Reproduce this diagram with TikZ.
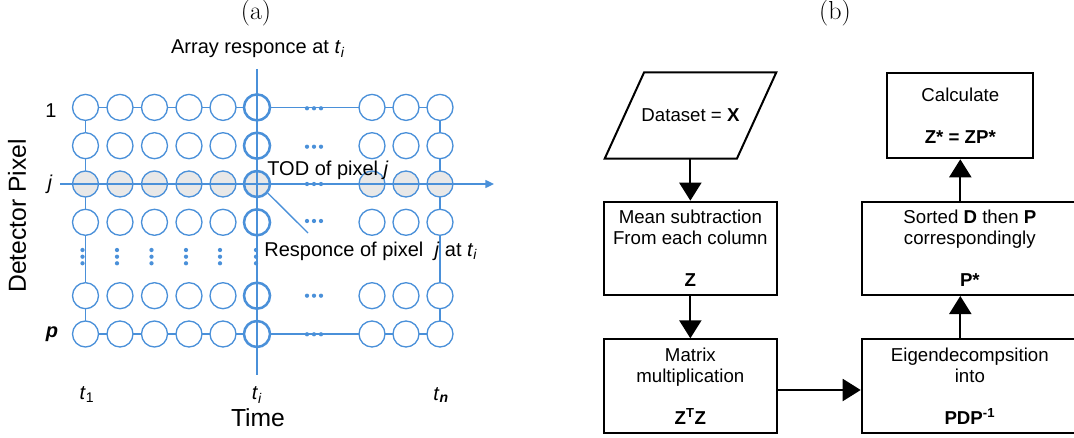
\documentclass[tikz,border=0pt]{standalone}
\usepackage{fontspec}
\newfontfamily\arial{Liberation Sans}
\usetikzlibrary{arrows.meta,backgrounds}
\definecolor{pixblue}{RGB}{74,144,217}
\definecolor{pixgrey}{RGB}{232,232,232}
\tikzset{
  pix/.style={circle, draw=pixblue, fill=white, line width=1pt, minimum size=19.5pt, inner sep=0pt},
  wire/.style={draw=pixblue, line width=1pt},
  lbl/.style={font=\arial\fontsize{15}{18}\selectfont},
  biglbl/.style={font=\arial\fontsize{18.5}{22}\selectfont},
  boxstep/.style={draw, line width=1.5pt, align=center, inner sep=0pt, font=\arial\fontsize{14}{15.75}\selectfont},
  flow/.style={line width=1.5pt, -{Triangle[length=13.5pt,width=16.5pt]}},
}
\begin{document}
\begin{tikzpicture}[x=0.75pt, y=-0.75pt]
  \useasboundingbox (0,0) rectangle (1074,438);

  % (a) detector array
  \node[font=\fontsize{19.5}{22}\selectfont] (tita) at (256,13) {(a)};
  \foreach \y/\fc [count=\r] in {107.4/white, 145.7/white, 184/pixgrey, 222.3/white, 295.7/white, 334/white}
    \foreach \x/\lw [count=\c] in {85.5/1pt, 120/1pt, 154.5/1pt, 189/1pt, 223/1pt, 257/1.9pt, 372/1pt, 406/1pt, 440/1pt}
      \node[pix, fill=\fc, line width=\lw] (c-\r-\c) at (\x,\y) {};
  \begin{scope}[on background layer]
    \draw[wire] (c-1-1.center) rectangle (c-6-9.center);
  \end{scope}
  \foreach \y in {108.3,146.7,184,221,295.7,334.3}
    \foreach \x in {307,314,321}
      \fill[pixblue] (\x,\y) circle[radius=1.6pt];
  \foreach \x in {82.5,117,151.5,186,220,256}
    \foreach \y in {250,256.7,263.3}
      \fill[pixblue] (\x,\y) circle[radius=1.6pt];
  \coordinate (jstart) at (60,184);
  \coordinate (jend) at (494,184);
  \coordinate (ttop) at (257,69);
  \coordinate (tbot) at (257,375);
  \coordinate (lead) at (308,233);
  \draw[wire, -{Triangle[length=6.5pt,width=6pt]}] (jstart) -- (jend);
  \draw[wire] (ttop) -- (tbot);
  \draw[wire] (c-3-6.-40) -- (lead);

  \node[lbl] (arr) at (258,49) {Array responce at \textit{t}\textsubscript{\textit{i}}};
  \node[lbl] (tod) at (328,170) {TOD of pixel \textit{j}};
  \node[lbl] (resp) at (371,251) {Responce of pixel \ \textit{j} at \textit{t}\textsubscript{\textit{i}}};
  \node[lbl] (row1) at (51,111) {1};
  \node[lbl] (rowj) at (50,184) {\textit{j}};
  \node[lbl] (rowp) at (52,334) {\textbf{\textit{p}}};
  \node[lbl] (t1) at (87,395) {\textit{t}\textsubscript{1}};
  \node[lbl] (ti) at (257,395) {\textit{t}\textsubscript{\textit{i}}};
  \node[lbl] (tn) at (441,395) {\textit{t}\textsubscript{\textbf{\textit{n}}}};
  \node[biglbl] (time) at (258,418) {Time};
  \node[biglbl, rotate=90] (det) at (17,216) {Detector Pixel};

  % (b) flow chart
  \node[font=\fontsize{19.5}{22}\selectfont] (titb) at (835,13) {(b)};
  \node[minimum width=128.25pt, minimum height=64.2pt, inner sep=0pt,
        font=\arial\fontsize{14}{15.75}\selectfont] (data) at (690.5,115.5) {Dataset = \textbf{X}};
  \draw[line width=1.5pt, line join=miter] (data.south west) -- ([xshift=29.5pt]data.north west)
    -- (data.north east) -- ([xshift=-29.5pt]data.south east) -- cycle;
  \node[boxstep, minimum width=129.5pt, minimum height=70pt] (mean) at (690.35,248.35)
    {Mean subtraction\\From each column\\[15.75pt]\textbf{Z}};
  \node[boxstep, minimum width=129.5pt, minimum height=70pt] (mult) at (690.35,386)
    {Matrix\\multiplication\\[15.75pt]\textbf{Z\textsuperscript{T}Z}};
  \node[boxstep, minimum width=162.2pt, minimum height=70pt] (eig) at (969.85,386)
    {Eigendecompsition\\into\\[15.75pt]\textbf{PDP\textsuperscript{-1}}};
  \node[boxstep, minimum width=162.2pt, minimum height=70pt] (sort) at (969.85,248.35)
    {Sorted \textbf{D} then \textbf{P}\\correspondingly\\[15.75pt]\textbf{P*}};
  \node[boxstep, minimum width=109.5pt, minimum height=64.2pt] (calc) at (960.3,115.5)
    {Calculate\\[15.75pt]\textbf{Z* = ZP*}};

  \draw[flow] (data.south -| mean) -- (mean);
  \draw[flow] (mean) -- (mult);
  \draw[flow] ([yshift=-3pt]mult.east) -- ([yshift=-3pt]eig.west);
  \draw[flow] (eig.north -| calc) -- (sort.south -| calc);
  \draw[flow] (sort.north -| calc) -- (calc);
\end{tikzpicture}
\end{document}
